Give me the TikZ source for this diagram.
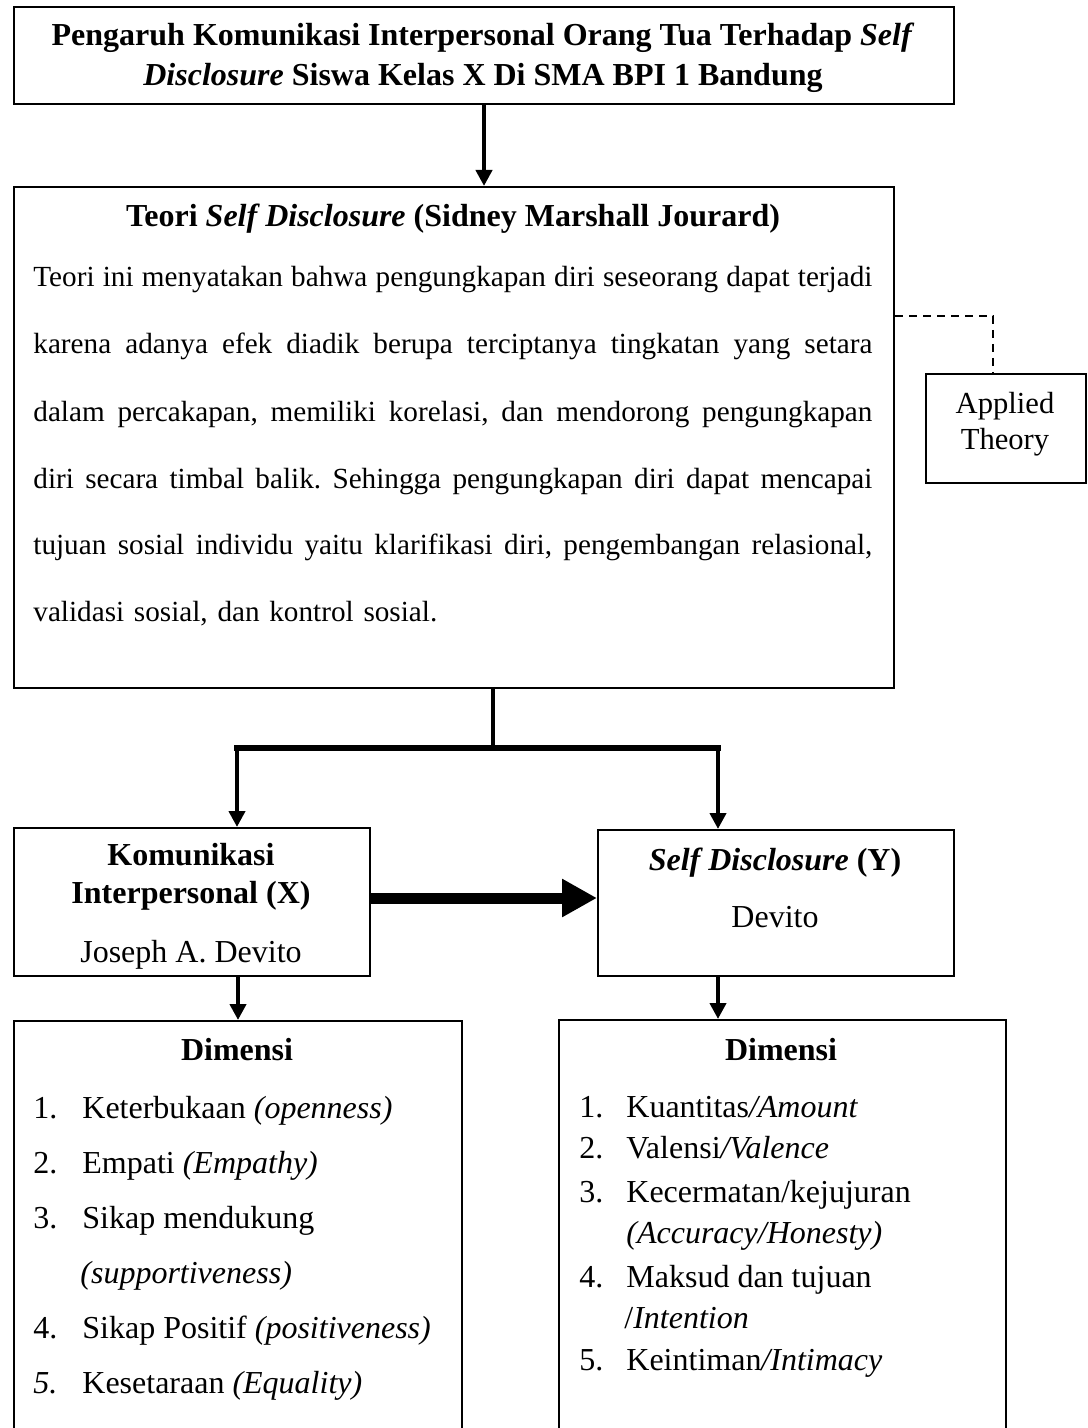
\documentclass[tikz,border=0pt]{standalone}
\usepackage{fontspec}
\setmainfont{Liberation Serif}
\usetikzlibrary{arrows.meta}
\newcommand{\barispenuh}[1]{\hbox to 419.5pt{\frenchspacing\spaceskip=0.25em plus 1fil minus 0.05em\relax #1}}

\begin{document}
\begin{tikzpicture}
[x=0.5pt,y=-0.5pt,
kotak/.style={draw,black,line width=1pt,inner sep=0pt,anchor=north west},
teks/.style={inner sep=0pt,anchor=base,font=\fontsize{16}{19}\selectfont},
teksbold/.style={inner sep=0pt,anchor=base,font=\fontsize{16}{19}\selectfont\bfseries},
butir/.style={inner sep=0pt,anchor=base west,font=\fontsize{16}{19}\selectfont},
panah/.style={-{Triangle[length=8pt,width=8pt]},black,line width=2pt},
garis/.style={black,line width=2pt},
garistebal/.style={black,line width=2.6pt,line cap=rect},
panahbesar/.style={-{Triangle[length=17.5pt,width=18pt]},black,line width=5.5pt},
putus/.style={black,line width=0.7pt,dash pattern=on 4pt off 3pt}]

\useasboundingbox (0,0) rectangle (1087,1428);

% judul
\node[kotak,minimum width=470pt,minimum height=48.5pt](judul) at (13,6){};
\node[teksbold](judul1) at (483,46){Pengaruh Komunikasi Interpersonal Orang Tua Terhadap \textit{Self}};
\node[teksbold](judul2) at (483,86){\textit{Disclosure} Siswa Kelas X Di SMA BPI 1 Bandung};

% teori self disclosure
\node[kotak,minimum width=440pt,minimum height=250.5pt](teori) at (13,186){};
\node[teksbold](teori1) at (453,227){Teori \textit{Self Disclosure} (Sidney Marshall Jourard)};
\node[inner sep=0pt,anchor=base west,text width=419.5pt,font=\fontsize{14.6}{33.5}\selectfont](isi) at (33,287){%
\barispenuh{Teori ini menyatakan bahwa pengungkapan diri seseorang dapat terjadi}
\barispenuh{karena adanya efek diadik berupa terciptanya tingkatan yang setara}
\barispenuh{dalam percakapan, memiliki korelasi, dan mendorong pengungkapan}
\barispenuh{diri secara timbal balik. Sehingga pengungkapan diri dapat mencapai}
\barispenuh{tujuan sosial individu yaitu klarifikasi diri, pengembangan relasional,}
\hbox{validasi sosial, dan kontrol sosial.}};
\draw[panah] (judul.south) -- (judul.south |- teori.north);

% applied theory
\node[kotak,minimum width=80pt,minimum height=54.5pt](applied) at (925,373){};
\node[teks,font=\fontsize{15.3}{18}\selectfont](applied1) at (1005,413){Applied};
\node[teks,font=\fontsize{15.3}{18}\selectfont](applied2) at (1005,449){Theory};
\coordinate (tekuk) at (993,316);
\draw[putus] (teori.east |- tekuk) -- (tekuk) -- (tekuk |- applied.north);

% cabang ke X dan Y
\coordinate (cabang) at (493,748);
\coordinate (kiri) at (237,748);
\coordinate (kanan) at (718,748);
\draw[garis] (cabang |- teori.south) -- (cabang);
\draw[garistebal] (kiri) -- (kanan);

% komunikasi interpersonal (X)
\node[kotak,minimum width=178pt,minimum height=74pt](kom) at (13,827){};
\node[teksbold](kom1) at (191,865){Komunikasi};
\node[teksbold](kom2) at (191,903){Interpersonal (X)};
\node[teks](kom3) at (191,962){Joseph A. Devito};
\draw[panah] (kiri) -- (kiri |- kom.north);

% self disclosure (Y)
\node[kotak,minimum width=178pt,minimum height=73pt](self) at (597,829){};
\node[teksbold](self1) at (775,870){\textit{Self Disclosure} (Y)};
\node[teks](self2) at (775,927){Devito};
\draw[panah] (kanan) -- (kanan |- self.north);
\draw[panahbesar] (kom.east |- 0,898) -- (self.west |- 0,898);

% dimensi X
\node[kotak,minimum width=224pt,minimum height=215pt](dimx) at (13,1020){};
\node[teksbold](dimx0) at (237,1060){Dimensi};
\node[butir](dimx1) at (33,1118){1.};
\node[butir](dimx1t) at (82,1118){Keterbukaan \textit{(openness)}};
\node[butir](dimx2) at (33,1173){2.};
\node[butir](dimx2t) at (82,1173){Empati \textit{(Empathy)}};
\node[butir](dimx3) at (33,1228){3.};
\node[butir](dimx3t) at (82,1228){Sikap mendukung};
\node[butir](dimx3u) at (80,1283){\textit{(supportiveness)}};
\node[butir](dimx4) at (33,1338){4.};
\node[butir](dimx4t) at (82,1338){Sikap Positif \textit{(positiveness)}};
\node[butir](dimx5) at (33,1393){\textit{5.}};
\node[butir](dimx5t) at (82,1393){Kesetaraan \textit{(Equality)}};
\draw[panah] (dimx.north |- kom.south) -- (dimx.north);

% dimensi Y
\node[kotak,minimum width=223.5pt,minimum height=215pt](dimy) at (558,1019){};
\node[teksbold](dimy0) at (781,1060){Dimensi};
\node[butir](dimy1) at (579,1117){1.};
\node[butir](dimy1t) at (626,1117){Kuantitas\textit{/Amount}};
\node[butir](dimy2) at (579,1158){2.};
\node[butir](dimy2t) at (626,1158){Valensi\textit{/Valence}};
\node[butir](dimy3) at (579,1202){3.};
\node[butir](dimy3t) at (626,1202){Kecermatan/kejujuran};
\node[butir](dimy3u) at (626,1243){\textit{(Accuracy/Honesty)}};
\node[butir](dimy4) at (579,1287){4.};
\node[butir](dimy4t) at (626,1287){Maksud dan tujuan};
\node[butir](dimy4u) at (624,1328){/\textit{Intention}};
\node[butir](dimy5) at (579,1370){5.};
\node[butir](dimy5t) at (626,1370){Keintiman\textit{/Intimacy}};
\draw[panah] (kanan |- self.south) -- (kanan |- dimy.north);

\end{tikzpicture}
\end{document}
